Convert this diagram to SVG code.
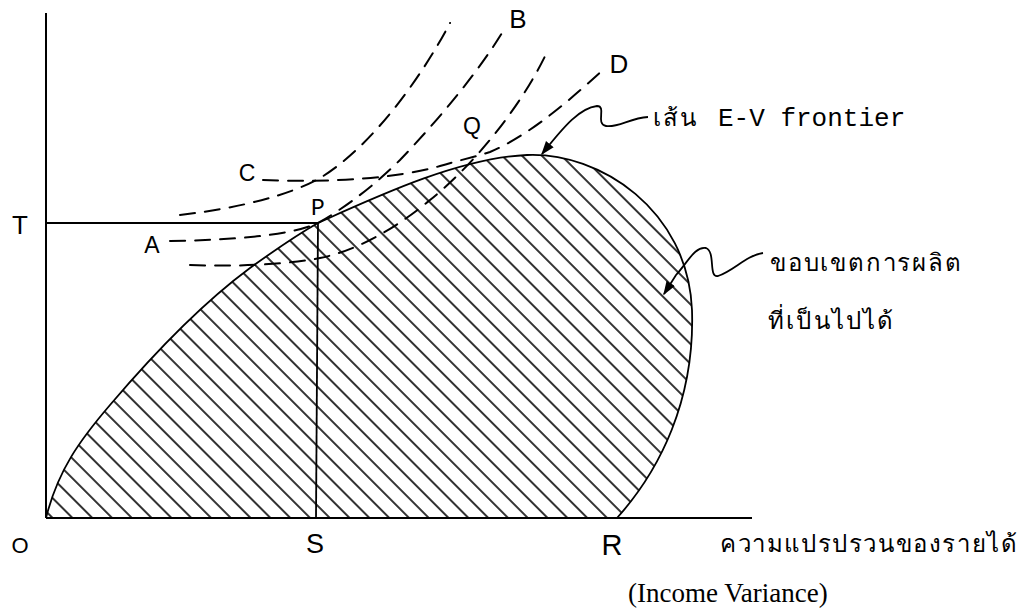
<svg xmlns="http://www.w3.org/2000/svg" width="1027" height="611" viewBox="0 0 1027 611">
  <style>
    .axis { stroke: #000; stroke-width: 2; fill: none; }
    .thin { stroke: #000; stroke-width: 1.8; fill: none; }
    .dash { stroke: #000; stroke-width: 2; fill: none; stroke-dasharray: 15 10; stroke-linecap: round; }
    .call { stroke: #000; stroke-width: 1.8; fill: none; }
    .lbl { font-family: "Liberation Sans", Arial, sans-serif; fill: #000; }
    .mono { font-family: "Liberation Mono", "Courier New", monospace; fill: #000; }
    .thai { font-family: "Noto Sans", "DejaVu Sans", sans-serif; fill: #000; }
    .serif { font-family: "Liberation Serif", "Times New Roman", serif; fill: #000; }
  </style>
  <defs>
    <pattern id="hatch" patternUnits="userSpaceOnUse" width="14" height="14" patternTransform="rotate(-45)">
      <line x1="7" y1="0" x2="7" y2="14" stroke="#000" stroke-width="1.6"/>
    </pattern>
    <marker id="arrowB" viewBox="0 0 10 10" refX="9" refY="5" markerWidth="14" markerHeight="14" orient="auto" markerUnits="userSpaceOnUse">
      <path d="M0,1.5 L10,5 L0,8.5 Z" fill="#000"/>
    </marker>
  </defs>
  <rect width="1027" height="611" fill="#fff"/>

  <g id="region">
    <path d="M46,518 C58,470 80,440 110,405 C150,358 200,305 250,268 C275,250 295,236 318,223 C380,195 460,158 527,155 C600,152 688,210 692,310 C695,400 660,470 617,518 Z" fill="url(#hatch)" stroke="none"/>
    <path d="M46,518 C58,470 80,440 110,405 C150,358 200,305 250,268 C275,250 295,236 318,223 C380,195 460,158 527,155 C600,152 688,210 692,310 C695,400 660,470 617,518" class="thin"/>
  </g>

  <g id="axes">
    <line x1="46" y1="13" x2="46" y2="518" class="axis"/>
    <line x1="46" y1="518" x2="752" y2="518" class="axis"/>
    <line x1="46" y1="223" x2="318" y2="223" class="thin"/>
    <line x1="318" y1="223" x2="316" y2="518" class="thin"/>
  </g>

  <g id="connectors">
    <path id="curve-upper" d="M180,215 C240,208 290,195 320,178 C370,148 420,80 450,23" class="dash"/>
    <path id="curve-AB" d="M170,241 C230,240 290,236 318,223 C350,205 380,180 400,160 C440,118 480,70 505,28" class="dash"/>
    <path id="curve-CD" d="M263,180 C330,183 400,178 440,166 C460,160 475,157 490,152 C530,135 570,100 605,68" class="dash"/>
    <path id="curve-lower" d="M190,265 C240,267 290,264 320,258 C360,250 400,225 430,200 C470,168 520,110 548,50" class="dash"/>
    <path id="callout-frontier" d="M648,117 C630,118 618,128 606,126 C595,124 607,106 597,106 C580,108 565,125 542,154" class="call" marker-end="url(#arrowB)"/>
    <path id="callout-region" d="M763,253 C745,256 735,270 718,276 C708,278 716,252 706,248 C695,246 688,262 676,275 L664,294" class="call" marker-end="url(#arrowB)"/>
  </g>

  <g id="label-T"><text x="20" y="234" class="lbl" font-size="26" text-anchor="middle">T</text></g>
  <g id="label-A"><text x="152" y="253" class="lbl" font-size="23" text-anchor="middle">A</text></g>
  <g id="label-P"><text x="318" y="215" class="mono" font-size="23" text-anchor="middle">P</text></g>
  <g id="label-C"><text x="247" y="181" class="lbl" font-size="23" text-anchor="middle">C</text></g>
  <g id="label-Q"><text x="472" y="134" class="lbl" font-size="23" text-anchor="middle">Q</text></g>
  <g id="label-B"><text x="518" y="28" class="lbl" font-size="26" text-anchor="middle">B</text></g>
  <g id="label-D"><text x="619" y="73" class="lbl" font-size="26" text-anchor="middle">D</text></g>
  <g id="label-O"><text x="20" y="553" class="lbl" font-size="22" text-anchor="middle">O</text></g>
  <g id="label-S"><text x="315" y="553" class="lbl" font-size="27" text-anchor="middle">S</text></g>
  <g id="label-R"><text x="612" y="555" class="lbl" font-size="29" text-anchor="middle">R</text></g>

  <g id="label-frontier">
    <text x="653" y="126" class="thai" font-size="24" letter-spacing="2">เส้น</text>
    <text x="718" y="126" class="mono" font-size="26">E-V frontier</text>
  </g>
  <g id="label-feasible">
    <text x="770" y="271" class="thai" font-size="24" letter-spacing="1.8">ขอบเขตการผลิต</text>
    <text x="768" y="329" class="thai" font-size="24" letter-spacing="2.2">ที่เป็นไปได้</text>
  </g>
  <g id="label-xaxis">
    <text x="720" y="552" class="thai" font-size="24" letter-spacing="1.6">ความแปรปรวนของรายได้</text>
    <text x="628" y="602" class="serif" font-size="27">(Income Variance)</text>
  </g>
</svg>
